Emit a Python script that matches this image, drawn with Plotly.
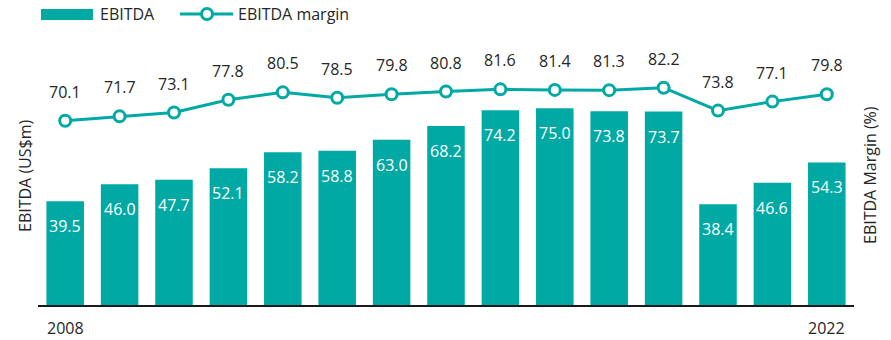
import plotly.graph_objects as go

years = list(range(2008, 2023))
ebitda = [39.5, 46.0, 47.7, 52.1, 58.2, 58.8, 63.0, 68.2, 74.2, 75.0, 73.8, 73.7, 38.4, 46.6, 54.3]
margin = [70.1, 71.7, 73.1, 77.8, 80.5, 78.5, 79.8, 80.8, 81.6, 81.4, 81.3, 82.2, 73.8, 77.1, 79.8]
tick_labels = ["2008", "2022"]

TEAL = "#00A9A4"
TEXT = "#262626"
FONT = "Open Sans"

W, H = 891, 340
L, R, T, B = 38, 37, 60, 35
PW, PH = W - L - R, H - T - B


def px(x):
    return (x - L) / PW


def py(y):
    return (H - B - y) / PH


xs = list(range(len(years)))

fig = go.Figure()
fig.add_trace(go.Bar(
    x=xs, y=ebitda, marker=dict(color=TEAL, line=dict(width=0)),
    name="EBITDA", showlegend=False, hoverinfo="skip",
))
fig.add_trace(go.Scatter(
    x=xs, y=margin, yaxis="y2", mode="lines+markers",
    line=dict(color=TEAL, width=3),
    marker=dict(symbol="circle", size=11, color="white", line=dict(color=TEAL, width=3)),
    name="EBITDA margin", showlegend=False, hoverinfo="skip",
))

annotations = []
for i, v in enumerate(ebitda):
    annotations.append(dict(x=i, y=v, xref="x", yref="y", text=f"{v:.1f}", showarrow=False,
                            yshift=-25, font=dict(family=FONT, size=16, color="white")))
for i, v in enumerate(margin):
    annotations.append(dict(x=i, y=v, xref="x", yref="y2", text=f"{v:.1f}", showarrow=False,
                            yshift=29, font=dict(family=FONT, size=16, color=TEXT)))


def paper_text(x, y, text, **kw):
    base = dict(x=px(x), y=py(y), xref="paper", yref="paper", text=text, showarrow=False,
                xanchor="center", yanchor="middle", font=dict(family=FONT, size=16, color=TEXT))
    base.update(kw)
    return base


# axis titles
annotations.append(paper_text(25, 176, "EBITDA (US$m)", textangle=-90))
annotations.append(paper_text(870, 175, "EBITDA Margin (%)", textangle=-90))

# year labels under the first and last bars
for i, lab in zip([0, len(years) - 1], tick_labels):
    annotations.append(dict(x=i, y=py(340), xref="x", yref="paper", text=lab, showarrow=False,
                            xanchor="center", yanchor="bottom", borderpad=0,
                            font=dict(family=FONT, size=16, color=TEXT)))

# legend
annotations.append(paper_text(98, 14, "EBITDA", xanchor="left"))
annotations.append(paper_text(236, 14, "EBITDA margin", xanchor="left"))

shapes = [
    dict(type="rect", xref="paper", yref="paper", x0=px(41), x1=px(93), y0=py(20), y1=py(9),
         fillcolor=TEAL, line=dict(width=0)),
    dict(type="line", xref="paper", yref="paper", x0=px(180), x1=px(233), y0=py(14), y1=py(14),
         line=dict(color=TEAL, width=3)),
    dict(type="circle", xref="paper", yref="paper", x0=px(201.5), x1=px(212.5), y0=py(19.5), y1=py(8.5),
         fillcolor="white", line=dict(color=TEAL, width=3)),
]

fig.update_layout(
    width=W, height=H,
    margin=dict(l=L, r=R, t=T, b=B, autoexpand=False),
    paper_bgcolor="white", plot_bgcolor="white",
    bargap=0.31,
    font=dict(family=FONT, size=16, color=TEXT),
    xaxis=dict(range=[-0.5, 14.5], showticklabels=False,
               showline=True, linecolor="#1a1a1a", linewidth=2, ticks="",
               showgrid=False, zeroline=False, automargin=False),
    yaxis=dict(range=[0, PH / 2.625], visible=False, showgrid=False, zeroline=False),
    yaxis2=dict(range=[2.6, 2.6 + PH / 2.73], overlaying="y", side="right", visible=False,
                showgrid=False, zeroline=False),
    annotations=annotations,
    shapes=shapes,
    showlegend=False,
)

fig.write_html("out.html")
